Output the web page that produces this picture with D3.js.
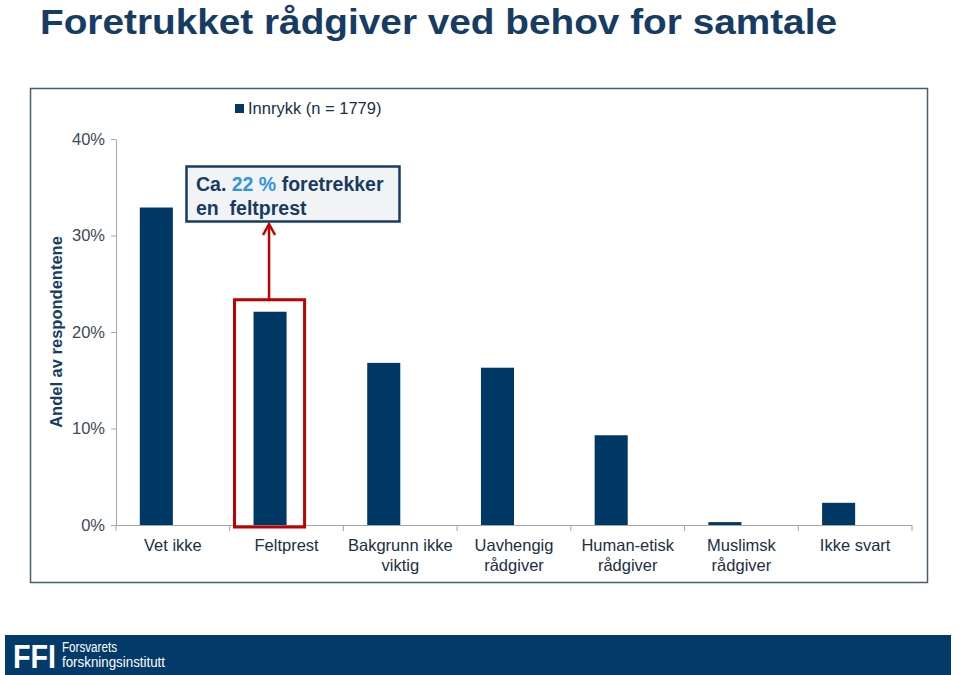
<!DOCTYPE html>
<html><head><meta charset="utf-8">
<script src="https://cdn.jsdelivr.net/npm/d3@7"></script>
<style>body{margin:0;background:#fff;font-family:"Liberation Sans",Arial,sans-serif}</style>
</head><body>
<svg id="c" width="959" height="675"></svg>
<script>
const categories = ["Vet ikke","Feltprest","Bakgrunn ikke\nviktig","Uavhengig\nrådgiver","Human-etisk\nrådgiver","Muslimsk\nrådgiver","Ikke svart"];
const values = [32.9, 22.1, 16.8, 16.3, 9.3, 0.3, 2.3];
const yTicks = [0, 10, 20, 30, 40];
const seriesName = "Innrykk (n = 1779)";
const title = "Foretrukket rådgiver ved behov for samtale";
const yLabel = "Andel av respondentene";

const FF = "'Liberation Sans', Arial, sans-serif";
const svg = d3.select("#c");
const navy = "#003865";
const axisGray = "#A6A6A6";
const red = "#C00000";

// title
svg.append("text").attr("x", 40).attr("y", 34).attr("font-size", 35).attr("font-weight", "bold")
  .attr("fill", "#173C63").attr("font-family", FF)
  .attr("textLength", 797).attr("lengthAdjust", "spacingAndGlyphs").text(title);

// outer frame
svg.append("rect").attr("x", 30.5).attr("y", 88.5).attr("width", 897).attr("height", 494)
  .attr("fill", "none").attr("stroke", "#44606F").attr("stroke-width", 1.5);

const x0 = 116, x1 = 912, yTop = 139, yBot = 525;
const y = d3.scaleLinear().domain([0, 40]).range([yBot, yTop]);
const band = (x1 - x0) / categories.length;
const sub = d3.scaleBand().domain(["a","b"]).range([0, band]).paddingOuter(0.72).paddingInner(0);

// y axis
const yAx = svg.append("g").attr("transform", `translate(${x0},0)`)
  .call(d3.axisLeft(y).tickValues(yTicks).tickFormat(d => d + "%").tickSize(5).tickSizeOuter(0));
yAx.select(".domain").attr("stroke", axisGray);
yAx.selectAll(".tick line").attr("stroke", axisGray);
yAx.selectAll(".tick text").attr("font-size", 16.5).attr("fill", "#404A55").attr("font-family", FF).attr("dx", -3);

// x axis
const xPos = d3.scalePoint().domain(d3.range(categories.length + 1)).range([x0, x1]);
svg.append("line").attr("x1", x0).attr("x2", x1).attr("y1", yBot + 0.5).attr("y2", yBot + 0.5).attr("stroke", axisGray);
svg.selectAll(".xt").data(d3.range(categories.length + 1)).join("line")
  .attr("x1", d => xPos(d)).attr("x2", d => xPos(d)).attr("y1", yBot).attr("y2", yBot + 6).attr("stroke", axisGray);

// bars
svg.selectAll(".bar").data(values).join("rect")
  .attr("x", (d, i) => x0 + i * band + sub("a"))
  .attr("width", sub.bandwidth())
  .attr("y", d => y(d))
  .attr("height", d => yBot - y(d))
  .attr("fill", navy);

// category labels
categories.forEach((c, i) => {
  const t = svg.append("text").attr("x", x0 + (i + 0.5) * band).attr("y", 551)
    .attr("text-anchor", "middle").attr("font-size", 16.5).attr("fill", "#1B2F45")
    .attr("font-family", FF);
  c.split("\n").forEach((line, k) => t.append("tspan").attr("x", x0 + (i + 0.5) * band).attr("dy", k ? 20 : 0).text(line));
});

// y label
svg.append("text").attr("transform", "translate(62,332) rotate(-90)").attr("text-anchor", "middle")
  .attr("font-size", 16.5).attr("font-weight", "bold").attr("fill", "#173C63")
  .attr("font-family", FF).text(yLabel);

// legend
svg.append("rect").attr("x", 235).attr("y", 104).attr("width", 9).attr("height", 9).attr("fill", navy);
svg.append("text").attr("x", 248).attr("y", 114).attr("font-size", 16.5).attr("fill", "#1B2F45")
  .attr("font-family", FF).text(seriesName);

// highlight rectangle around Feltprest
const fi = 1;
const fx = x0 + fi * band + sub("a");
svg.append("rect").attr("x", fx - 19).attr("y", y(values[fi]) - 12)
  .attr("width", sub.bandwidth() + 37).attr("height", yBot + 2 - (y(values[fi]) - 12))
  .attr("fill", "none").attr("stroke", red).attr("stroke-width", 3);

// arrow
const ax = fx + sub.bandwidth() / 2 - 1;
svg.append("line").attr("x1", ax).attr("x2", ax).attr("y1", y(values[fi]) - 12).attr("y2", 226)
  .attr("stroke", red).attr("stroke-width", 2.5);
svg.append("path").attr("d", `M${ax - 6},${235} L${ax},${224} L${ax + 6},${235}`)
  .attr("fill", "none").attr("stroke", red).attr("stroke-width", 2.5);

// annotation box
svg.append("rect").attr("x", 186.5).attr("y", 166.5).attr("width", 213).attr("height", 55)
  .attr("fill", "#F2F3F5").attr("stroke", "#173C63").attr("stroke-width", 2.5);
const a1 = svg.append("text").attr("x", 196).attr("y", 191).attr("font-size", 19.5).attr("font-weight", "bold")
  .attr("fill", "#173C63").attr("font-family", FF);
a1.append("tspan").text("Ca. ");
a1.append("tspan").attr("fill", "#2E96E0").text("22 %");
a1.append("tspan").text(" foretrekker");
svg.append("text").attr("x", 196).attr("y", 215).attr("font-size", 19.5).attr("font-weight", "bold")
  .attr("fill", "#173C63").attr("font-family", FF)
  .style("white-space", "pre").text("en  feltprest");

// footer
svg.append("rect").attr("x", 5).attr("y", 635).attr("width", 946).attr("height", 40).attr("fill", "#023A69");
svg.append("text").attr("x", 13).attr("y", 668).attr("font-size", 34).attr("font-weight", "bold")
  .attr("fill", "#fff").attr("font-family", FF)
  .attr("textLength", 43).attr("lengthAdjust", "spacingAndGlyphs").text("FFI");
svg.append("text").attr("x", 62).attr("y", 652).attr("font-size", 14).attr("fill", "#fff")
  .attr("font-family", FF).attr("textLength", 55).attr("lengthAdjust", "spacingAndGlyphs").text("Forsvarets");
svg.append("text").attr("x", 62).attr("y", 667).attr("font-size", 14).attr("fill", "#fff")
  .attr("font-family", FF).attr("textLength", 103).attr("lengthAdjust", "spacingAndGlyphs").text("forskningsinstitutt");
</script>
</body></html>
